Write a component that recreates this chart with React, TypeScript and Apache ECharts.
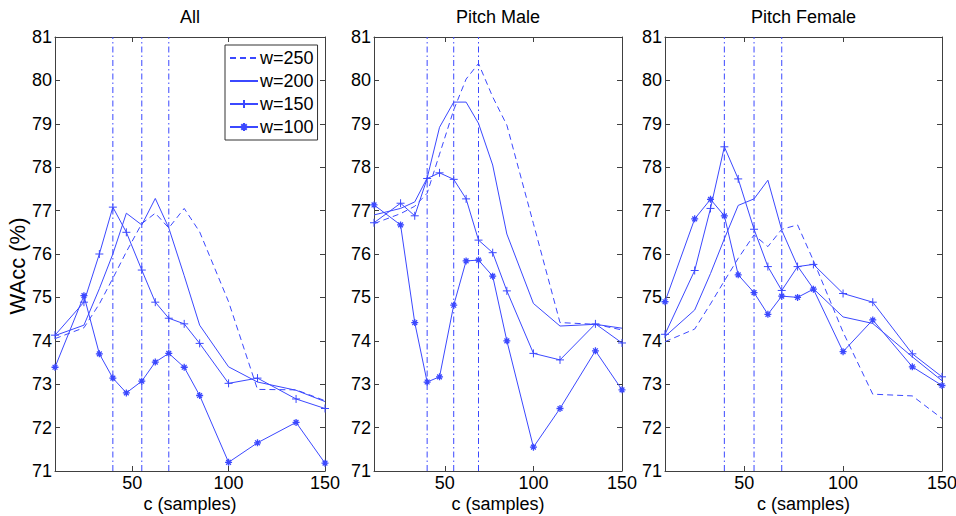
import React, { useEffect, useRef } from 'react';
import * as echarts from 'echarts';

const X_VALUES = [10, 25, 33, 40, 47, 55, 62, 69, 77, 85, 100, 115, 135, 150];
const PANEL_TITLES = ['All', 'Pitch Male', 'Pitch Female'];
const SERIES_NAMES = ['w=250', 'w=200', 'w=150', 'w=100'];
const V_LINES = [40, 55, 69];
const X_TICKS = [50, 100, 150];
const Y_MIN = 71;
const Y_MAX = 81;
const X_MIN = 10;
const X_MAX = 150;

const ALL_W250 = [74.05, 74.3, 74.85, 75.44, 76.05, 76.7, 76.94, 76.6, 77.05, 76.51, 74.9, 72.88, 72.87, 72.62];
const ALL_W200 = [74.12, 74.36, 75.2, 76.0, 76.94, 76.67, 77.28, 76.6, 75.5, 74.36, 73.4, 73.05, 72.86, 72.6];
const ALL_W150 = [74.13, 74.89, 76.0, 77.08, 76.5, 75.63, 74.89, 74.52, 74.39, 73.94, 73.02, 73.14, 72.66, 72.44];
const ALL_W100 = [73.39, 75.04, 73.7, 73.14, 72.8, 73.07, 73.51, 73.71, 73.39, 72.74, 71.2, 71.65, 72.12, 71.18];

const MALE_W250 = [76.7, 76.93, 77.1, 77.4, 78.3, 79.32, 80.03, 80.39, 79.62, 78.97, 76.7, 74.42, 74.38, 74.25];
const MALE_W200 = [76.9, 77.05, 77.2, 77.75, 78.92, 79.5, 79.5, 79.01, 78.05, 76.46, 74.86, 74.34, 74.38, 74.29];
const MALE_W150 = [76.72, 77.17, 76.88, 77.74, 77.87, 77.72, 77.27, 76.32, 76.03, 75.15, 73.71, 73.56, 74.39, 73.95];
const MALE_W100 = [77.13, 76.67, 74.42, 73.05, 73.17, 74.82, 75.84, 75.86, 75.49, 74.0, 71.55, 72.44, 73.77, 72.87];

const FEMALE_W250 = [73.98, 74.27, 74.85, 75.38, 75.9, 76.44, 76.17, 76.57, 76.67, 75.85, 74.2, 72.77, 72.73, 72.21];
const FEMALE_W200 = [74.1, 74.71, 75.55, 76.35, 77.12, 77.27, 77.7, 76.55, 75.72, 75.2, 74.55, 74.4, 73.63, 73.08];
const FEMALE_W150 = [74.15, 75.62, 77.05, 78.47, 77.73, 76.57, 75.71, 75.16, 75.71, 75.76, 75.09, 74.89, 73.7, 73.17];
const FEMALE_W100 = [74.9, 76.81, 77.26, 76.88, 75.52, 75.11, 74.61, 75.03, 75.0, 75.19, 73.75, 74.48, 73.4, 72.97];

const PANEL_DATA = [
  [ALL_W250, ALL_W200, ALL_W150, ALL_W100],
  [MALE_W250, MALE_W200, MALE_W150, MALE_W100],
  [FEMALE_W250, FEMALE_W200, FEMALE_W150, FEMALE_W100],
];

const BLUE = '#3b48ff';
const AXIS = '#404040';
const FONT = '"Liberation Sans", Arial, Helvetica, sans-serif';
const PLUS = 'path://M0,5L10,5M5,0L5,10';
const STAR = 'path://M0,5L10,5M5,0L5,10M1.6,1.6L8.4,8.4M8.4,1.6L1.6,8.4';

const GRIDS = [
  { left: 55, top: 37, width: 270, height: 434 },
  { left: 374, top: 37, width: 248, height: 434 },
  { left: 665, top: 37, width: 277, height: 434 },
];

function buildOption() {
  const grid = GRIDS.map((g) => ({ ...g, containLabel: false, outerBoundsMode: 'none', show: false }));
  const xAxis: any[] = [];
  const yAxis: any[] = [];
  const tickLine = { color: AXIS, width: 1 };
  GRIDS.forEach((_, i) => {
    xAxis.push({
      type: 'value', gridIndex: i, min: X_MIN, max: X_MAX, position: 'bottom',
      axisLine: { show: true, lineStyle: tickLine },
      axisTick: { show: true, inside: true, length: 5, customValues: X_TICKS, lineStyle: tickLine },
      axisLabel: { show: true, customValues: X_TICKS, fontSize: 18, lineHeight: 15, color: '#000', margin: 4, fontFamily: FONT },
      splitLine: { show: false },
      name: 'c (samples)', nameLocation: 'middle', nameGap: 25, nameMoveOverlap: false,
      nameTextStyle: { fontSize: 18, lineHeight: 15, color: '#000', fontFamily: FONT },
    });
    xAxis.push({
      type: 'value', gridIndex: i, min: X_MIN, max: X_MAX, position: 'top',
      axisLine: { show: true, lineStyle: tickLine },
      axisTick: { show: true, inside: true, length: 5, customValues: X_TICKS, lineStyle: tickLine },
      axisLabel: { show: false },
      splitLine: { show: false },
    });
    yAxis.push({
      type: 'value', gridIndex: i, min: Y_MIN, max: Y_MAX, interval: 1, position: 'left',
      axisLine: { show: true, lineStyle: tickLine },
      axisTick: { show: true, inside: true, length: 5, lineStyle: tickLine },
      axisLabel: { show: true, fontSize: 18, color: '#000', margin: 3, fontFamily: FONT },
      splitLine: { show: false },
    });
    yAxis.push({
      type: 'value', gridIndex: i, min: Y_MIN, max: Y_MAX, interval: 1, position: 'right',
      axisLine: { show: true, lineStyle: tickLine },
      axisTick: { show: true, inside: true, length: 5, lineStyle: tickLine },
      axisLabel: { show: false },
      splitLine: { show: false },
    });
  });

  const series: any[] = [];
  PANEL_DATA.forEach((panel, p) => {
    V_LINES.forEach((v) => {
      series.push({
        type: 'line',
        name: 'c=' + v,
        xAxisIndex: p * 2,
        yAxisIndex: p * 2,
        data: [[v, Y_MIN], [v, Y_MAX]],
        symbol: 'none',
        showSymbol: false,
        color: BLUE,
        lineStyle: { color: BLUE, width: 1, type: [6, 3, 1.5, 3] },
        emphasis: { disabled: true },
        silent: true,
        z: 2,
      });
    });
    panel.forEach((vals, s) => {
      const isDashed = s === 0;
      const hasMarker = s >= 2;
      const symbol = s === 2 ? PLUS : s === 3 ? STAR : 'circle';
      series.push({
        type: 'line',
        name: SERIES_NAMES[s],
        xAxisIndex: p * 2,
        yAxisIndex: p * 2,
        data: X_VALUES.map((x, k) => [x, vals[k]]),
        symbol,
        showSymbol: hasMarker,
        symbolSize: s === 3 ? 7 : 8,
        color: BLUE,
        itemStyle: hasMarker
          ? { color: BLUE, borderColor: BLUE, borderWidth: s === 3 ? 1.3 : 1 }
          : { color: BLUE, opacity: 0, borderWidth: 0 },
        lineStyle: { color: BLUE, width: 1, opacity: 1, type: isDashed ? [6, 4] : 'solid' },
        emphasis: { disabled: true },
        silent: true,
        z: 3,
      });
    });
  });

  return {
    animation: false,
    backgroundColor: '#ffffff',
    textStyle: { fontFamily: FONT },
    title: PANEL_TITLES.map((t, i) => ({
      text: t,
      left: GRIDS[i].left + GRIDS[i].width / 2,
      top: 8,
      textAlign: 'center',
      padding: 0,
      textStyle: { fontSize: 18, fontWeight: 'normal', color: '#000', fontFamily: FONT },
    })),
    grid,
    xAxis,
    yAxis,
    legend: {
      data: SERIES_NAMES,
      left: 225,
      top: 45,
      orient: 'vertical',
      itemWidth: 28,
      itemHeight: 10,
      itemGap: 5,
      padding: [4, 4, 4, 4],
      borderColor: '#333',
      borderWidth: 1,
      borderRadius: 0,
      backgroundColor: '#fff',
      selectedMode: false,
      textStyle: { fontSize: 18, color: '#000', fontFamily: FONT, padding: [0, 0, 0, -3] },
    },
    graphic: [
      {
        type: 'text',
        x: 17,
        y: 266,
        rotation: Math.PI / 2,
        style: { text: 'WAcc (%)', fontSize: 22, fill: '#000', align: 'center', verticalAlign: 'middle', fontFamily: FONT },
      },
    ],
    series,
  };
}

export default function App() {
  const ref = useRef<HTMLDivElement>(null);
  useEffect(() => {
    if (!ref.current) return;
    const chart = echarts.init(ref.current, null, { renderer: 'svg' });
    chart.setOption(buildOption() as any);
    return () => chart.dispose();
  }, []);
  return (
    <div
      ref={ref}
      style={{ position: 'fixed', left: 0, top: 0, width: 956, height: 516, background: '#fff' }}
    />
  );
}
